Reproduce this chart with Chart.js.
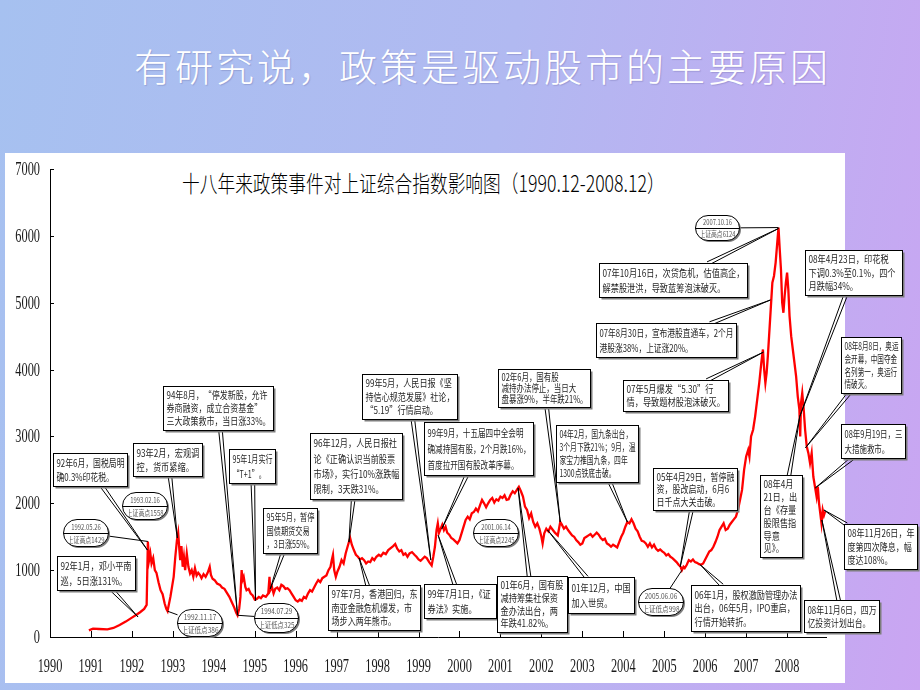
<!DOCTYPE html>
<html><head><meta charset="utf-8">
<script src="https://cdn.jsdelivr.net/npm/chart.js@4"></script>
<style>
html,body{margin:0;padding:0;}
body{width:920px;height:690px;overflow:hidden;position:relative;background:linear-gradient(100deg,#a6c1f0 0%,#b1b9f1 50%,#caa5f2 100%);font-family:"Noto Sans CJK SC",sans-serif;}
#slideTitle{position:absolute;left:134px;top:40px;color:#fff;font-size:38px;font-weight:300;letter-spacing:3px;white-space:nowrap;line-height:50px;text-shadow:1px 1px 1px rgba(80,80,140,0.25);}
#panel{position:absolute;left:5px;top:153px;width:840px;height:530px;background:#fff;}
#chartTitle{position:absolute;left:182px;top:170px;font-size:23px;font-weight:300;line-height:25px;color:#000;white-space:nowrap;transform:scaleX(0.77);transform-origin:0 0;}
canvas{position:absolute;left:0;top:0;}
</style></head><body>
<div id="slideTitle">有研究说，政策是驱动股市的主要原因</div>
<div id="panel"></div>
<div id="chartTitle">十八年来政策事件对上证综合指数影响图（1990.12-2008.12）</div>
<canvas id="c" width="920" height="690"></canvas>
<script>
// ---- data ----
const dates = [
1990.95,1991.05,1991.2,1991.4,1991.55,1991.7,1991.85,1992.0,1992.1,1992.2,
1992.3,1992.36,1992.39,1992.42,1992.45,1992.48,1992.52,1992.56,1992.6,1992.65,
1992.7,1992.75,1992.8,1992.84,1992.87,1992.9,1992.94,1992.98,1993.02,1993.06,
1993.1,1993.13,1993.16,1993.18,1993.21,1993.24,1993.27,1993.3,1993.34,1993.38,
1993.42,1993.46,1993.5,1993.54,1993.58,1993.62,1993.66,1993.7,1993.75,1993.8,
1993.85,1993.9,1993.93,1993.97,1994.02,1994.08,1994.15,1994.2,1994.26,1994.32,
1994.38,1994.44,1994.5,1994.55,1994.58,1994.62,1994.65,1994.68,1994.7,1994.73,
1994.77,1994.8,1994.85,1994.9,1994.95,1995.0,1995.05,1995.1,1995.15,1995.2,
1995.27,1995.33,1995.36,1995.38,1995.42,1995.46,1995.5,1995.55,1995.6,1995.65,
1995.7,1995.75,1995.8,1995.85,1995.9,1995.95,1996.0,1996.05,1996.1,1996.15,
1996.2,1996.25,1996.3,1996.35,1996.4,1996.45,1996.5,1996.55,1996.6,1996.65,
1996.7,1996.75,1996.8,1996.85,1996.88,1996.91,1996.94,1996.98,1997.02,1997.07,
1997.12,1997.17,1997.22,1997.28,1997.33,1997.37,1997.42,1997.47,1997.52,1997.57,
1997.62,1997.67,1997.72,1997.77,1997.82,1997.87,1997.92,1997.97,1998.03,1998.08,
1998.14,1998.2,1998.26,1998.32,1998.38,1998.43,1998.48,1998.53,1998.58,1998.63,
1998.68,1998.73,1998.78,1998.84,1998.9,1998.95,1999.0,1999.05,1999.1,1999.15,
1999.2,1999.26,1999.32,1999.36,1999.4,1999.44,1999.47,1999.5,1999.54,1999.58,
1999.62,1999.66,1999.7,1999.75,1999.8,1999.85,1999.9,1999.95,2000.0,2000.05,
2000.1,2000.15,2000.2,2000.25,2000.3,2000.35,2000.4,2000.45,2000.5,2000.55,
2000.6,2000.65,2000.7,2000.75,2000.8,2000.85,2000.9,2000.95,2001.0,2001.05,
2001.1,2001.15,2001.2,2001.25,2001.3,2001.35,2001.4,2001.45,2001.5,2001.55,
2001.6,2001.65,2001.7,2001.75,2001.8,2001.85,2001.9,2001.95,2002.0,2002.03,
2002.07,2002.12,2002.17,2002.22,2002.28,2002.33,2002.4,2002.46,2002.5,2002.55,
2002.6,2002.65,2002.7,2002.75,2002.8,2002.85,2002.9,2002.95,2003.0,2003.05,
2003.1,2003.15,2003.2,2003.25,2003.3,2003.35,2003.4,2003.45,2003.5,2003.55,
2003.6,2003.65,2003.7,2003.75,2003.8,2003.85,2003.9,2003.95,2004.0,2004.05,
2004.1,2004.15,2004.2,2004.25,2004.3,2004.35,2004.4,2004.45,2004.5,2004.55,
2004.6,2004.65,2004.7,2004.75,2004.8,2004.85,2004.9,2004.95,2005.0,2005.05,
2005.1,2005.15,2005.2,2005.25,2005.3,2005.35,2005.4,2005.43,2005.47,2005.5,
2005.55,2005.6,2005.65,2005.7,2005.75,2005.8,2005.85,2005.9,2005.95,2006.0,
2006.05,2006.1,2006.15,2006.2,2006.25,2006.3,2006.35,2006.4,2006.45,2006.5,
2006.55,2006.6,2006.65,2006.7,2006.75,2006.8,2006.85,2006.9,2006.95,2007.0,
2007.05,2007.08,2007.12,2007.17,2007.22,2007.27,2007.32,2007.37,2007.41,2007.44,
2007.47,2007.5,2007.53,2007.56,2007.6,2007.64,2007.68,2007.72,2007.76,2007.79,
2007.82,2007.85,2007.88,2007.91,2007.94,2007.97,2008.0,2008.03,2008.06,2008.1,
2008.14,2008.18,2008.22,2008.26,2008.3,2008.32,2008.34,2008.37,2008.4,2008.44,
2008.48,2008.52,2008.56,2008.6,2008.64,2008.68,2008.72,2008.75,2008.78,2008.82,
2008.84,2008.87,2008.9,2008.93
];
const closes = [
100,125,120,115,135,180,230,290,330,370,
420,480,1429,1150,1250,1100,1180,1000,960,820,
700,640,500,420,386,480,600,750,900,1200,
1450,1558,1300,1150,1360,1050,1200,1000,1250,1050,
950,1000,900,1030,920,960,930,880,940,900,
960,1050,930,870,850,800,780,740,720,660,
600,520,440,360,325,420,600,1000,850,900,
750,700,720,650,620,560,570,600,580,620,
600,650,900,700,750,650,720,740,700,780,
760,720,730,700,650,600,550,530,560,540,
600,580,650,700,680,740,800,850,820,880,
900,920,1000,1050,1150,1230,1000,900,980,1050,
1150,1100,1250,1380,1480,1380,1300,1230,1200,1160,
1180,1150,1100,1130,1120,1180,1150,1200,1230,1210,
1260,1240,1300,1330,1360,1390,1320,1280,1300,1230,
1250,1200,1250,1270,1230,1200,1160,1140,1170,1200,
1180,1120,1070,1200,1350,1600,1700,1560,1620,1680,
1600,1650,1560,1530,1480,1460,1430,1400,1450,1550,
1650,1750,1800,1760,1850,1870,1920,1880,1970,2050,
2000,1940,2000,2050,2080,2010,2060,2040,2100,2080,
2120,2050,2060,2130,2180,2150,2200,2245,2180,2100,
1950,1900,1780,1850,1720,1650,1700,1620,1500,1400,
1550,1620,1580,1650,1600,1560,1520,1720,1680,1620,
1650,1600,1560,1520,1500,1450,1420,1380,1400,1480,
1500,1520,1540,1500,1530,1560,1530,1480,1450,1470,
1400,1380,1350,1380,1360,1340,1420,1500,1560,1650,
1720,1700,1760,1700,1620,1580,1500,1440,1430,1400,
1350,1400,1340,1380,1320,1290,1310,1280,1260,1220,
1240,1200,1180,1150,1120,1080,1050,998,1050,1030,
1080,1150,1130,1160,1120,1110,1090,1080,1100,1160,
1220,1280,1300,1350,1420,1500,1600,1650,1700,1600,
1620,1680,1720,1760,1800,1900,2050,2200,2500,2700,
2800,2700,3000,3100,3300,3550,3800,4100,4300,4000,
3800,3950,4200,4500,4900,5300,5400,5600,5900,6124,
5800,5500,5000,4850,5100,5300,5450,5200,4800,4500,
4300,4100,3900,3600,3400,3000,3500,3650,3450,3100,
2850,2750,2600,2750,2400,2250,2100,2250,2000,1800,
1700,1900,1820,1880
];
const yearTicks = [1990,1991,1992,1993,1994,1995,1996,1997,1998,1999,2000,2001,2002,2003,2004,2005,2006,2007,2008];
const valueTicks = [0,1000,2000,3000,4000,5000,6000,7000];

// event texts and the index point each one refers to (year, index value)
const eventTexts = [
 ["92年1月，邓小平南","巡，5日涨131%。"],
 ["92年6月，国税局明","确0.3%印花税。"],
 ["93年2月，宏观调","控，货币紧缩。"],
 ["94年8月，“停发新股，允许","券商融资，成立合资基金”","三大政策救市，当日涨33%。"],
 ["95年1月实行","“T+1”。"],
 ["95年5月，暂停","国债期货交易","，3日涨55%。"],
 ["96年12月，人民日报社","论《正确认识当前股票","市场》，实行10%涨跌幅","限制，3天跌31%。"],
 ["97年7月，香港回归，东","南亚金融危机爆发，市","场步入两年熊市。"],
 ["99年5月，人民日报《坚","持信心规范发展》社论，","“5.19”行情启动。"],
 ["99年9月，十五届四中全会明","确减持国有股，2个月跌16%，","首度拉开国有股改革序幕。"],
 ["99年7月1日，《证","券法》实施。"],
 ["01年6月，国有股","减持筹集社保资","金办法出台，两","年跌41.82%。"],
 ["01年12月，中国","加入世贸。"],
 ["02年6月，国有股","减持办法停止，当日大","盘暴涨9%，半年跌21%。"],
 ["04年2月，国九条出台，","3个月下跌21%；9月，温","家宝力推国九条，四年","1300点铁底击破。"],
 ["05年4月29日，暂停融","资，股改启动，6月6","日千点大关击破。"],
 ["06年1月，股权激励管理办法","出台，06年5月，IPO重启，","行情开始转折。"],
 ["07年5月爆发“5.30”行","情，导致题材股泡沫破灭。"],
 ["07年8月30日，宣布港股直通车，2个月","港股涨38%，上证涨20%。"],
 ["07年10月16日，次贷危机，估值高企，","解禁股泄洪，导致蓝筹泡沫破灭。"],
 ["08年4月23日，印花税","下调0.3%至0.1%，四个","月跌幅34%。"],
 ["08年8月8日，奥运","会开幕，中国夺金","名列第一，奥运行","情破灭。"],
 ["08年9月19日，三","大措施救市。"],
 ["08年11月26日，年","度第四次降息，幅","度达108%。"],
 ["08年11月6日，四万","亿投资计划出台。"],
 ["08年4月","21日，出","台《存量","股限售指","导意","见》。"]
];
const eventPoints = [
 [1992.15,300],[1992.38,1300],[1993.11,1480],[1994.58,330],[1995.02,540],[1995.38,720],
 [1997.3,1420],[1997.55,1180],[1999.3,1150],[1999.57,1620],[1999.48,1520],[2001.43,2230],
 [2002.15,1600],[2002.46,1720],[2004.1,1720],[2005.39,1050],[2005.88,1080],[2007.42,4260],
 [2007.59,5040],[2007.79,6110],[2008.31,3300],[2008.45,2830],[2008.69,2230],[2008.9,1900],
 [2008.85,1750],[2008.31,3300]
];
const extremeDates = ["1992.05.26","1993.02.16","1992.11.17","1994.07.29","2001.06.14","2005.06.06","2007.10.16"];
const extremeTexts = ["上证高点1429","上证高点1558","上证低点386","上证低点325","上证高点2245","上证低点998","上证高点6124"];
const extremePoints = [[1992.39,1429],null,[1992.87,386],[1994.58,325],null,[2005.43,998],[2007.79,6124]];

// ---- layout of the callouts (top-left in axis units, size in px) ----
const eventBoxLayout = [
 [1990.17,1212,78,34],[1990.07,2753,74,33],[1992.03,2902,69,33],[1992.76,3755,110,44],
 [1994.37,2812,46,34],[1995.20,1930,54,45],[1996.35,3052,92,66],[1996.79,778,92,45],
 [1997.62,3934,95,45],[1999.14,3216,109,53],[1999.14,793,72,34],[2000.92,913,70,56],
 [2002.65,898,66,36],[2000.94,4009,92,38],[2002.36,3172,82,57],[2004.73,2528,84,42],
 [2005.66,778,109,46],[2004.0,3845,105,31],[2003.34,4697,140,34],[2003.41,5595,148,34],
 [2008.44,5790,97,45],[2009.32,4488,60,56],[2009.32,3186,64,34],[2009.39,1690,73,45],
 [2008.42,553,75,32],[2007.34,2423,42,82]
];
const extremeBoxLayout = [ // centre in axis units, size px
 [1990.855,1556,45,27],[1992.296,1960,45,27],[1993.64,224,45,27],[1995.52,299,44,29],
 [2000.87,1556,45,27],[2004.90,524,45,27],[2006.29,6119,44,25]
];

function squeezeText(ctx,t,x,y,s,align){
  ctx.save(); ctx.translate(x,y); ctx.scale(s,1); ctx.textAlign=align; ctx.fillText(t,0,0); ctx.restore();
}
function edgePoint(bx,by,w,h,tx,ty){
  const cx=bx+w/2, cy=by+h/2, dx=tx-cx, dy=ty-cy;
  const t=Math.min(dx?(w/2)/Math.abs(dx):Infinity, dy?(h/2)/Math.abs(dy):Infinity);
  if(t>=1) return [cx,cy];
  return [cx+dx*t, cy+dy*t];
}
function roundRect(ctx,x,y,w,h,r){
  ctx.beginPath();
  ctx.moveTo(x+r,y); ctx.lineTo(x+w-r,y); ctx.arc(x+w-r,y+r,r,-Math.PI/2,Math.PI/2);
  ctx.lineTo(x+r,y+h); ctx.arc(x+r,y+r,r,Math.PI/2,Math.PI*1.5); ctx.closePath();
}

const decor = {
  id:'decor',
  afterDraw(chart){
    const ctx=chart.ctx, sx=chart.scales.x, sy=chart.scales.y, a=chart.chartArea;
    ctx.save();
    // inward tick marks
    ctx.strokeStyle='#000'; ctx.lineWidth=1; ctx.beginPath();
    yearTicks.forEach(v=>{const x=Math.round(sx.getPixelForValue(v))+0.5; ctx.moveTo(x,a.bottom); ctx.lineTo(x,a.bottom-6);});
    valueTicks.forEach(v=>{const y=Math.round(sy.getPixelForValue(v))+0.5; ctx.moveTo(a.left,y); ctx.lineTo(a.left+4,y);});
    ctx.stroke();
    // tick labels
    ctx.fillStyle='#1a1a1a'; ctx.font='19px "Liberation Serif"'; ctx.textBaseline='middle';
    yearTicks.forEach(v=>squeezeText(ctx,String(v),sx.getPixelForValue(v),a.bottom+30,0.65,'center'));
    valueTicks.forEach(v=>squeezeText(ctx,String(v),a.left-10,sy.getPixelForValue(v)+1,0.65,'right'));

    // event callouts
    eventTexts.forEach((lines,i)=>{
      const L=eventBoxLayout[i], P=eventPoints[i];
      const bx=Math.round(sx.getPixelForValue(L[0]))+0.5, by=Math.round(sy.getPixelForValue(L[1]))+0.5, w=L[2], h=L[3];
      const tx=sx.getPixelForValue(P[0]), ty=sy.getPixelForValue(P[1]);
      const [ax,ay]=edgePoint(bx,by,w,h,tx,ty);
      const dx=tx-ax, dy=ty-ay, len=Math.hypot(dx,dy)||1, nx=-dy/len*1.8, ny=dx/len*1.8;
      ctx.strokeStyle='#000'; ctx.lineWidth=1;
      ctx.beginPath(); ctx.moveTo(ax+nx,ay+ny); ctx.lineTo(tx,ty); ctx.moveTo(ax-nx,ay-ny); ctx.lineTo(tx,ty); ctx.stroke();
      ctx.fillStyle='#7d7d7d'; ctx.fillRect(bx+2,by+2,w,h);
      ctx.fillStyle='#fff'; ctx.fillRect(bx,by,w,h);
      ctx.strokeRect(bx,by,w,h);
      ctx.font='10px "Noto Sans CJK SC"'; ctx.textBaseline='middle'; ctx.fillStyle='#1e1e1e';
      let maxW=0; lines.forEach(t=>{maxW=Math.max(maxW,ctx.measureText(t).width);});
      const s=Math.min(0.82,(w-6)/maxW);
      const lh=(h-5)/lines.length;
      lines.forEach((t,k)=>squeezeText(ctx,t,bx+3,by+2.5+lh*(k+0.5),s,'left'));
    });

    // high/low labels
    extremeDates.forEach((d,i)=>{
      const L=extremeBoxLayout[i], P=extremePoints[i];
      const cx=sx.getPixelForValue(L[0]), cy=sy.getPixelForValue(L[1]), w=L[2], h=L[3];
      const bx=Math.round(cx-w/2)+0.5, by=Math.round(cy-h/2)+0.5;
      if(P){
        const tx=sx.getPixelForValue(P[0]), ty=sy.getPixelForValue(P[1]);
        const [ax,ay]=edgePoint(bx,by,w,h,tx,ty);
        ctx.strokeStyle='#000'; ctx.lineWidth=1;
        ctx.beginPath(); ctx.moveTo(ax,ay); ctx.lineTo(tx,ty); ctx.stroke();
      }
      ctx.fillStyle='#7d7d7d'; roundRect(ctx,bx+1.5,by+1.5,w,h,h/2); ctx.fill();
      ctx.fillStyle='#fff'; roundRect(ctx,bx,by,w,h,h/2); ctx.fill();
      ctx.strokeStyle='#000'; ctx.stroke();
      ctx.beginPath(); ctx.moveTo(bx,by+Math.round(h/2)); ctx.lineTo(bx+w,by+Math.round(h/2)); ctx.stroke();
      ctx.font='8px "Noto Sans CJK SC"'; ctx.fillStyle='#555'; ctx.textBaseline='middle';
      const mw=Math.max(ctx.measureText(d).width,ctx.measureText(extremeTexts[i]).width);
      const s=Math.min(0.85,(w-8)/mw);
      squeezeText(ctx,d,bx+w/2,by+h*0.27,s,'center');
      squeezeText(ctx,extremeTexts[i],bx+w/2,by+h*0.75,s,'center');
    });
    ctx.restore();
  }
};

new Chart(document.getElementById('c'),{
  type:'line',
  data:{datasets:[{
    data:dates.map((x,i)=>({x:x,y:closes[i]})),
    borderColor:'#ff0000', borderWidth:2.3, pointRadius:0, tension:0, fill:false
  }]},
  options:{
    responsive:false, animation:false,
    layout:{padding:{left:0,top:169,right:94,bottom:0}},
    plugins:{legend:{display:false},tooltip:{enabled:false},title:{display:false}},
    scales:{
      x:{type:'linear',min:1990,max:2008.95,grid:{display:false},border:{display:true,color:'#000',width:1},
         ticks:{display:false},afterFit(s){s.height=53;}},
      y:{type:'linear',min:0,max:7000,grid:{display:false},border:{display:true,color:'#000',width:1},
         ticks:{display:false},afterFit(s){s.width=50;}}
    }
  },
  plugins:[decor]
});
</script>
</body></html>
